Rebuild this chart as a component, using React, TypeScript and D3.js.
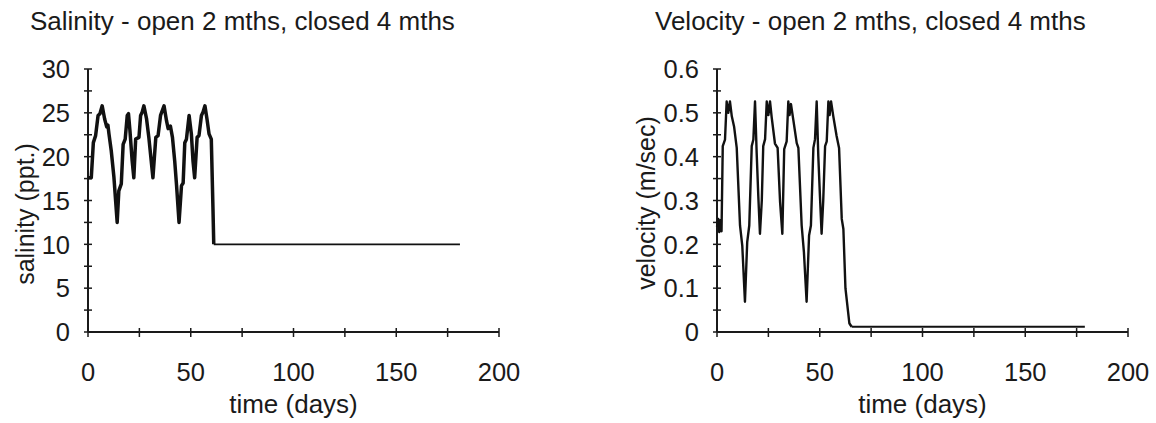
import React from 'react';
import * as d3 from 'd3';

// ---- data ----
const salinityOpenDays = [0, 1.6, 2.6, 3.7, 4.9, 5.8, 6.9, 8.1, 9.1, 9.7, 10.2, 11.3, 12.6, 14.2, 15.0, 16.2, 17.1, 18.1, 19.1, 19.7, 20.4, 21.5, 22.3, 23.2, 24.8, 25.6, 26.4, 27.2, 28.5, 29.6, 31.6, 33.0, 34.1, 35.3, 37.0, 38.2, 39.0, 40.1, 41.1, 42.2, 43.1, 44.3, 45.5, 46.3, 47.1, 47.9, 49.2, 50.3, 51.1, 51.9, 53.1, 54.0, 55.2, 56.0, 56.9, 57.9, 58.9, 60.0, 60.8, 61.2];
const salinityOpenValues = [17.6, 17.6, 21.6, 22.4, 24.7, 24.9, 25.8, 24.3, 23.4, 23.6, 22.6, 20.7, 17.7, 12.5, 16.1, 16.9, 21.4, 22.0, 24.7, 24.9, 23.0, 19.5, 17.6, 22.0, 22.2, 24.7, 25.1, 25.8, 24.3, 22.2, 17.6, 22.2, 22.4, 24.7, 25.8, 24.1, 23.2, 23.5, 22.2, 19.5, 16.7, 12.5, 16.7, 17.0, 21.6, 22.0, 24.7, 22.6, 19.5, 17.6, 22.2, 22.4, 24.7, 25.1, 25.8, 24.3, 22.6, 22.0, 14.2, 10];
const salinityClosedDays = [61.2, 181];
const salinityClosedValues = [10, 10];

const velocityOpenDays = [0, 0.6, 1.1, 1.6, 2.2, 2.8, 3.9, 4.7, 5.5, 6.3, 7.2, 8.3, 9.6, 11.2, 12.3, 13.6, 14.7, 15.7, 16.9, 17.7, 18.5, 19.3, 20.1, 20.9, 21.8, 22.5, 23.4, 24.2, 25.0, 25.8, 26.6, 28.2, 29.5, 30.7, 31.8, 32.7, 33.9, 34.7, 35.3, 36.0, 37.1, 38.8, 39.6, 41.2, 42.3, 43.6, 44.8, 45.7, 46.9, 47.7, 48.5, 49.3, 50.1, 50.9, 51.7, 52.6, 53.4, 54.2, 54.8, 55.5, 56.6, 58.2, 59.4, 60.7, 61.5, 62.5, 64.4, 65.5];
const velocityOpenValues = [0.24, 0.258, 0.228, 0.255, 0.23, 0.424, 0.439, 0.526, 0.5, 0.526, 0.492, 0.469, 0.42, 0.243, 0.197, 0.069, 0.205, 0.243, 0.424, 0.439, 0.526, 0.409, 0.31, 0.224, 0.3, 0.424, 0.44, 0.526, 0.495, 0.526, 0.49, 0.43, 0.42, 0.296, 0.224, 0.417, 0.435, 0.526, 0.495, 0.52, 0.485, 0.431, 0.42, 0.243, 0.182, 0.069, 0.22, 0.243, 0.42, 0.44, 0.526, 0.401, 0.31, 0.224, 0.3, 0.424, 0.435, 0.526, 0.495, 0.526, 0.492, 0.447, 0.42, 0.258, 0.235, 0.1, 0.02, 0.012];
const velocityClosedDays = [65.5, 179];
const velocityClosedValues = [0.012, 0.012];

const xTickLabels = [0, 50, 100, 150, 200];
const salinityTickLabels = [0, 5, 10, 15, 20, 25, 30];
const velocityTickLabels = [0, 0.1, 0.2, 0.3, 0.4, 0.5, 0.6];

const FONT = "'Liberation Sans', Arial, Helvetica, sans-serif";
const INK = '#1a1a1a';

type PanelProps = {
  left: number;
  title: string;
  yTitle: string;
  yTitleX: number;
  yTitleY: number;
  yMax: number;
  yTicks: number[];
  yMinorStep: number;
  fmt: (v: number) => string;
  openDays: number[];
  openValues: number[];
  closedDays: number[];
  closedValues: number[];
  openWidth: number;
  titleX: number;
};

function Panel(p: PanelProps) {
  const x = d3.scaleLinear().domain([0, 200]).range([p.left, p.left + 411]);
  const y = d3.scaleLinear().domain([0, p.yMax]).range([332, 69]);
  const line = d3
    .line<[number, number]>()
    .x((d) => x(d[0]))
    .y((d) => y(d[1]));
  const openPts = p.openDays.map((d, i) => [d, p.openValues[i]] as [number, number]);
  const closedPts = p.closedDays.map((d, i) => [d, p.closedValues[i]] as [number, number]);
  const xMinor = d3.range(0, 201, 25);
  const nMinor = Math.round(p.yMax / p.yMinorStep);
  const yMinor = d3.range(0, nMinor + 1).map((i) => i * p.yMinorStep);
  const x0 = x(0);
  const y0 = y(0);
  return (
    <g>
      <text x={p.titleX} y={30} fontSize={26} fill={INK} fontFamily={FONT}>
        {p.title}
      </text>
      {/* axes */}
      <line x1={x0} x2={x(200)} y1={y0} y2={y0} stroke={INK} strokeWidth={2} />
      <line x1={x0} x2={x0} y1={y(p.yMax)} y2={y0} stroke={INK} strokeWidth={2} />
      {xMinor.map((t) => (
        <line key={'xt' + t} x1={x(t)} x2={x(t)} y1={y0 - 4} y2={y0 + 5} stroke={INK} strokeWidth={1.5} />
      ))}
      {yMinor.map((t) => (
        <line key={'yt' + t} x1={x0 - 4} x2={x0 + 4} y1={y(t)} y2={y(t)} stroke={INK} strokeWidth={1.5} />
      ))}
      {xTickLabels.map((t) => (
        <text key={'xl' + t} x={x(t)} y={381} textAnchor="middle" fontSize={25.5} fill={INK} fontFamily={FONT}>
          {t}
        </text>
      ))}
      {p.yTicks.map((t) => (
        <text key={'yl' + t} x={x0 - 18} y={y(t)} dy="0.36em" textAnchor="end" fontSize={25.5} fill={INK} fontFamily={FONT}>
          {p.fmt(t)}
        </text>
      ))}
      <text x={x(100)} y={413} textAnchor="middle" fontSize={26} fill={INK} fontFamily={FONT}>
        time (days)
      </text>
      <text
        transform={`translate(${p.yTitleX},${p.yTitleY}) rotate(-90)`}
        textAnchor="middle"
        dy="0.35em"
        fontSize={25}
        fill={INK}
        fontFamily={FONT}
      >
        {p.yTitle}
      </text>
      {/* data */}
      <path d={line(openPts) || ''} fill="none" stroke="#111" strokeWidth={p.openWidth} strokeLinejoin="round" />
      <path d={line(closedPts) || ''} fill="none" stroke="#111" strokeWidth={1.8} />
    </g>
  );
}

export default function App() {
  return (
    <svg
      width={1156}
      height={423}
      style={{ position: 'absolute', left: 0, top: 0, background: '#fff' }}
    >
      <rect width={1156} height={423} fill="#fff" />
      <Panel
        left={88}
        title="Salinity - open 2 mths, closed 4 mths"
        titleX={30}
        yTitle="salinity (ppt.)"
        yTitleX={25}
        yTitleY={214}
        yMax={30}
        yTicks={salinityTickLabels}
        yMinorStep={2.5}
        fmt={(v) => String(v)}
        openDays={salinityOpenDays}
        openValues={salinityOpenValues}
        closedDays={salinityClosedDays}
        closedValues={salinityClosedValues}
        openWidth={3.5}
      />
      <Panel
        left={717}
        title="Velocity - open 2 mths, closed 4 mths"
        titleX={655}
        yTitle="velocity (m/sec)"
        yTitleX={646}
        yTitleY={203}
        yMax={0.6}
        yTicks={velocityTickLabels}
        yMinorStep={0.05}
        fmt={(v) => (v === 0 ? '0' : d3.format('.1f')(v))}
        openDays={velocityOpenDays}
        openValues={velocityOpenValues}
        closedDays={velocityClosedDays}
        closedValues={velocityClosedValues}
        openWidth={2.4}
      />
    </svg>
  );
}
